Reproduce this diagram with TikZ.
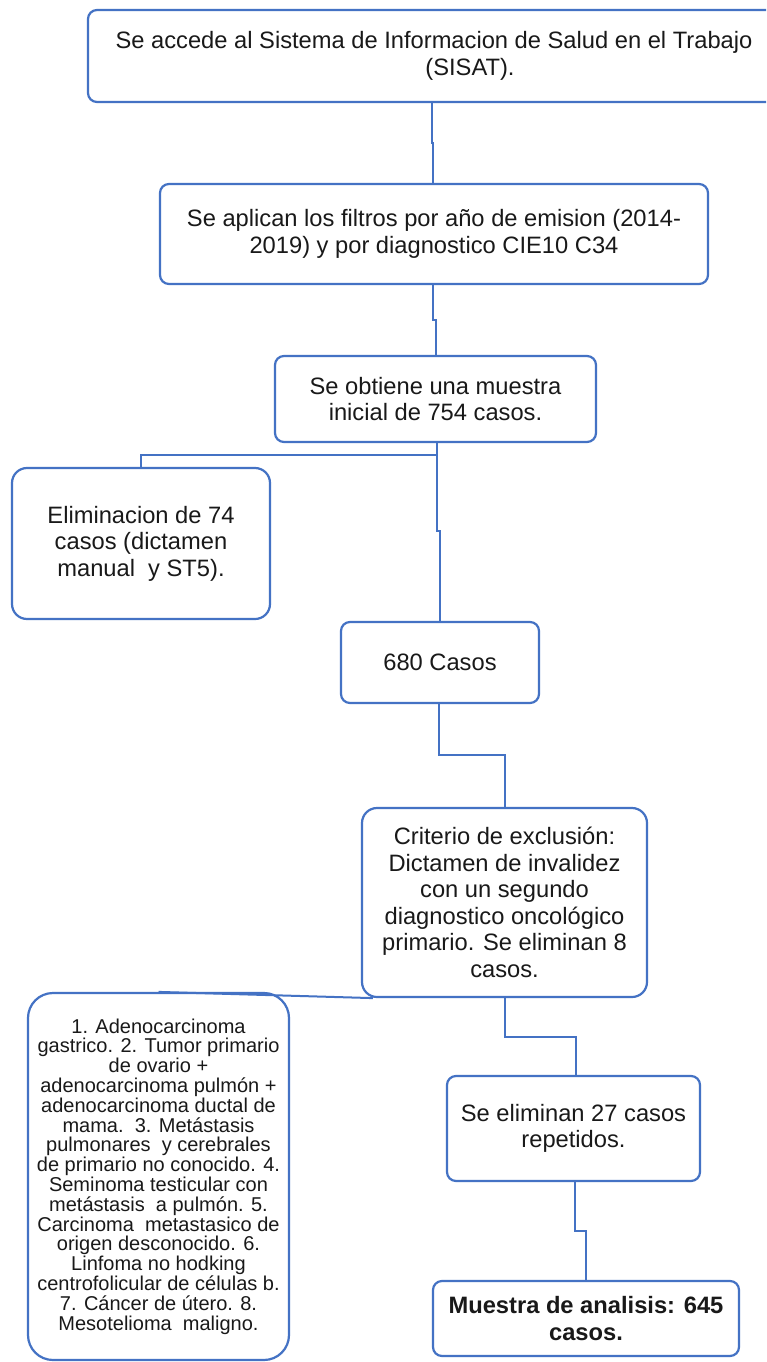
\documentclass[tikz,border=0pt]{standalone}
\usepackage{fontspec}
\setmainfont{Liberation Sans}
\definecolor{edge}{HTML}{4472C4}
\newcommand{\bigtxt}{\fontsize{23.7}{26.5}\selectfont}
\newcommand{\smalltxt}{\fontsize{20}{19.8}\selectfont}
\tikzset{
  box/.style={draw=edge, line width=2.2pt, rounded corners=9pt, inner sep=0pt, align=center, font=\bigtxt, text=black!90},
  conn/.style={draw=edge, line width=2pt},
}
\begin{document}
\begin{tikzpicture}[x=1pt,y=-1pt]
\useasboundingbox (0,0) rectangle (766,1362);
\clip (0,0) rectangle (766,1362);
\fill[white] (0,0) rectangle (766,1362);

\node[box, minimum width=692, minimum height=92] (b1) at (434,56)
  {Se accede al Sistema de Informacion de Salud en el Trabajo\\\hspace*{72pt}(SISAT).};
\node[box, minimum width=548, minimum height=100] (b2) at (434,234)
  {Se aplican los filtros por año de emision (2014-\\2019) y por diagnostico CIE10 C34};
\node[box, minimum width=321, minimum height=86] (b3) at (435.5,399)
  {Se obtiene una muestra\\inicial de 754 casos.};
\node[box, rounded corners=15pt, minimum width=258, minimum height=151] (b4) at (141,543.5)
  {Eliminacion de 74\\casos (dictamen\\manual\ \ y ST5).};
\node[box, minimum width=198, minimum height=81] (b5) at (440,662.5)
  {680 Casos};
\node[box, rounded corners=15pt, minimum width=285, minimum height=189] (b6) at (504.5,902.5)
  {Criterio de exclusión:\\Dictamen de invalidez\\con un segundo\\diagnostico oncológico\\primario. Se eliminan 8\\casos.};
\node[box, rounded corners=25pt, minimum width=261, minimum height=367, font=\smalltxt] (b7) at (158.5,1176.5)
  {1. Adenocarcinoma\\gastrico. 2. Tumor primario\\de ovario +\\adenocarcinoma pulmón +\\adenocarcinoma ductal de\\mama.\ \ 3. Metástasis\\pulmonares\ \ y cerebrales\\de primario no conocido. 4.\\Seminoma testicular con\\metástasis\ \ a pulmón. 5.\\Carcinoma\ \ metastasico de\\origen desconocido. 6.\\Linfoma no hodking\\centrofolicular de células b.\\7. Cáncer de útero. 8.\\Mesotelioma\ \ maligno.};
\node[box, minimum width=253, minimum height=105] (b8) at (573.5,1128.5)
  {Se eliminan 27 casos\\repetidos.};
\node[box, minimum width=306, minimum height=75, font=\bigtxt\bfseries] (b9) at (586,1318.5)
  {Muestra de analisis: 645\\casos.};

% connectors
\coordinate (j1a) at (432,143); \coordinate (j1b) at (433,143);
\draw[conn] (b1.south -| j1a) -- (j1a) -- (j1b) -- (b2.north -| j1b);
\coordinate (j2a) at (433,320); \coordinate (j2b) at (436,320);
\draw[conn] (b2.south -| j2a) -- (j2a) -- (j2b) -- (b3.north -| j2b);
\coordinate (j3a) at (437,531); \coordinate (j3b) at (440,531);
\draw[conn] (b3.south -| j3a) -- (j3a) -- (j3b) -- (b5.north -| j3b);
\coordinate (j3c) at (437,455);
\draw[conn] (j3c) -| (b4.north);
\coordinate (j4a) at (439,755); \coordinate (j4b) at (505,755);
\draw[conn] (b5.south -| j4a) -- (j4a) -- (j4b) -- (b6.north -| j4b);
\coordinate (j5a) at (505,1037); \coordinate (j5b) at (576,1037);
\draw[conn] (b6.south -| j5a) -- (j5a) -- (j5b) -- (b8.north -| j5b);
\draw[conn] (b7.north) -- ([xshift=12pt]b6.south west);
\coordinate (j7a) at (575,1231); \coordinate (j7b) at (586,1231);
\draw[conn] (b8.south -| j7a) -- (j7a) -- (j7b) -- (b9.north -| j7b);
\end{tikzpicture}
\end{document}
